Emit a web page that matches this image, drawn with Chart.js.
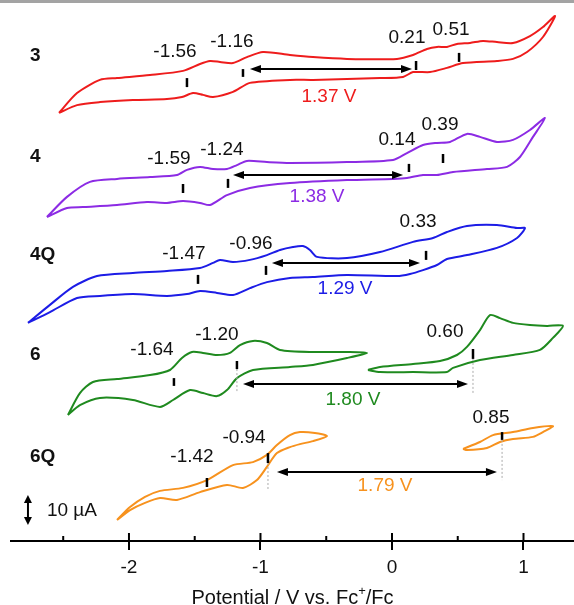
<!DOCTYPE html>
<html>
<head>
<meta charset="utf-8">
<script src="https://cdn.jsdelivr.net/npm/chart.js@4.4.1/dist/chart.umd.min.js"></script>
<style>
  html, body { margin: 0; padding: 0; background: #fff; }
  #wrap { width: 574px; height: 605px; position: relative; }
</style>
</head>
<body>
<div id="wrap"><canvas id="cv"></canvas></div>
<script>
/* ---- CV data: potential (V vs Fc+/Fc) and stacked current (µA) ---- */

// 3 (red)
const e3 = [-2.532,-2.395,-2.221,-2.091,-1.840,-1.589,-1.460,-1.384,-1.308,-1.209,-1.103,-0.981,-0.776,-0.601,-0.342,0.038,0.160,0.266,0.342,0.418,0.494,0.593,0.692,0.798,0.920,1.049,1.148,1.240,
  1.148,1.027,0.920,0.798,0.540,0.418,0.289,0.160,0.084,-0.091,-0.342,-0.601,-0.776,-1.080,-1.209,-1.361,-1.437,-1.513,-1.597,-1.711,-1.970,-2.221,-2.395,-2.532];
const i3 = [142.7,149.3,153.7,154.3,155.3,156.7,159.0,160.0,159.7,159.3,161.3,163.0,162.0,161.3,160.7,160.7,162.0,164.0,164.7,164.7,165.7,166.0,166.7,166.3,166.0,168.3,171.3,175.0,
  168.0,163.0,160.7,160.0,159.3,157.7,156.3,156.3,154.7,154.3,154.0,153.7,153.7,152.7,149.7,148.0,148.7,149.3,148.0,147.3,147.0,146.3,145.3,142.7];

// 4 (purple)
const e4 = [-2.624,-2.471,-2.297,-2.091,-1.840,-1.635,-1.559,-1.460,-1.361,-1.255,-1.179,-1.103,-0.951,-0.776,-0.342,0.008,0.114,0.236,0.342,0.441,0.570,0.669,0.798,0.920,1.049,1.163,
  1.072,0.973,0.875,0.722,0.464,0.342,0.236,0.114,0.008,-0.342,-0.776,-1.080,-1.255,-1.384,-1.460,-1.589,-1.711,-1.863,-2.091,-2.350,-2.471,-2.624];
const i4 = [108.0,114.7,119.7,120.7,121.3,122.0,123.7,124.7,124.0,124.0,125.3,126.7,126.3,126.0,126.3,127.0,129.3,132.0,132.7,133.0,135.7,134.7,133.0,133.7,137.0,141.0,
  134.7,128.0,124.7,124.0,123.0,122.0,122.0,121.0,120.7,120.3,119.3,117.7,115.3,112.0,112.7,113.3,112.7,113.0,112.0,111.3,111.0,108.0];

// 4Q (blue)
const e4Q = [-2.768,-2.601,-2.426,-2.243,-1.970,-1.711,-1.460,-1.361,-1.308,-1.209,-1.080,-0.951,-0.852,-0.753,-0.677,-0.624,-0.570,-0.342,-0.091,0.160,0.312,0.418,0.570,0.798,0.951,1.011,
  0.951,0.798,0.570,0.418,0.342,0.236,0.137,0.038,-0.342,-0.601,-0.776,-0.951,-1.080,-1.209,-1.331,-1.460,-1.559,-1.711,-1.970,-2.221,-2.395,-2.601,-2.768];
const i4Q = [72.7,78.7,84.7,88.3,89.3,90.0,91.0,92.7,93.7,93.0,93.7,95.3,97.0,98.0,98.3,97.0,94.7,94.3,96.3,99.7,101.0,103.0,105.0,105.3,104.3,104.3,
  101.0,97.7,95.3,94.0,92.0,90.3,89.0,88.3,88.7,88.0,87.7,86.3,84.3,82.0,82.7,83.3,82.3,81.7,82.3,81.7,81.0,76.3,72.7];

// 6 (green), reductive and oxidative scans
const e6red = [-2.464,-2.373,-2.274,-2.091,-1.840,-1.688,-1.597,-1.521,-1.437,-1.331,-1.232,-1.156,-1.057,-0.951,-0.852,-0.601,-0.342,-0.190,
  -0.342,-0.601,-0.776,-1.057,-1.179,-1.255,-1.331,-1.437,-1.536,-1.665,-1.764,-1.970,-2.221,-2.373,-2.464];
const i6red = [42.0,49.3,53.0,54.0,55.3,57.0,61.0,63.0,62.7,62.0,62.7,65.3,66.7,66.0,63.7,63.0,63.0,62.7,
  61.0,58.7,58.0,57.0,54.3,50.3,48.3,49.3,50.3,47.0,44.7,47.0,47.7,45.3,42.0];
const e6ox = [-0.183,-0.091,0.160,0.365,0.494,0.570,0.669,0.745,0.821,0.920,1.049,1.179,1.300,
  1.224,1.125,0.920,0.669,0.464,0.418,0.160,-0.091,-0.183];
const i6ox = [57.0,58.0,59.0,60.0,62.0,64.7,70.3,75.3,74.3,72.7,72.0,71.7,71.7,
  67.7,63.7,62.0,60.3,57.7,56.3,56.3,56.3,57.0];

// 6Q (orange), reductive and oxidative scans
const e6Qred = [-2.091,-1.992,-1.878,-1.764,-1.589,-1.407,-1.209,-1.057,-0.951,-0.875,-0.776,-0.700,-0.586,-0.494,
  -0.601,-0.700,-0.776,-0.875,-0.951,-1.027,-1.133,-1.255,-1.460,-1.635,-1.764,-1.878,-1.992,-2.091];
const i6Qred = [7.0,11.3,14.7,16.7,17.7,20.3,25.3,26.3,28.7,32.0,35.3,36.3,36.0,35.0,
  33.3,32.3,31.3,29.3,24.7,20.3,17.7,18.7,16.3,13.7,14.3,12.7,10.3,7.0];
const e6Qox = [0.540,0.669,0.768,0.920,1.072,1.224,1.148,1.072,0.920,0.821,0.722,0.570,0.540];
const i6Qox = [30.7,33.0,35.3,36.3,37.7,38.3,36.3,34.7,34.0,33.0,31.0,30.3,30.7];

// peak markers: [E, I bottom, I top]
const peakMarks = [
  [-1.559,151.3,154.3],[-1.133,154.7,157.3],[0.183,157.0,160.0],[0.510,159.7,162.7],
  [-1.589,116.0,119.0],[-1.247,117.7,120.7],[0.129,123.0,125.7],[0.388,126.0,129.0],
  [-1.475,85.7,88.7],[-0.958,88.7,91.7],[0.259,93.7,96.7],
  [-1.658,51.7,54.3],[-1.179,57.3,60.0],[0.616,60.7,64.0],
  [-1.407,18.0,21.0],[-0.943,26.0,29.3],[0.837,33.7,36.3]
];
// dotted guides: [E, I top, I bottom]
const guides = [[-1.179,57.3,49.7],[0.616,60.7,49.3],[-0.943,26.0,17.0],[0.837,33.7,20.3]];
// gap arrows: [E from, E to, I]
const gapArrows = [[-1.080,0.152,157.3],[-1.209,0.084,122.0],[-0.913,0.213,92.7],[-1.133,0.578,52.3],[-0.875,0.798,23.0]];
const gapLabels = [['1.37 V',-0.479,148.0],['1.38 V',-0.570,114.7],['1.29 V',-0.357,84.0],['1.80 V',-0.297,47.0],['1.79 V',-0.053,18.3]];
const peakLabels = [
  ['-1.56',-1.650,163.0],['-1.16',-1.217,166.3],['0.21',0.114,167.7],['0.51',0.449,170.3],
  ['-1.59',-1.696,127.3],['-1.24',-1.293,130.3],['0.14',0.038,133.7],['0.39',0.365,138.7],
  ['-1.47',-1.582,95.7],['-0.96',-1.072,99.0],['0.33',0.198,106.3],
  ['-1.64',-1.825,63.7],['-1.20',-1.331,68.7],['0.60',0.403,69.7],
  ['-1.42',-1.521,28.0],['-0.94',-1.125,34.3],['0.85',0.753,41.0]
];
const compounds = [['3',161.7],['4',128.0],['4Q',95.3],['6',62.0],['6Q',28.0]];
const xTicks = [-2, -1, 0, 1];
const xMinor = [-2.5, -1.5, -0.5, 0.5];

const COLORS = ['#ee1c1c', '#8c2be4', '#1c1ce6', '#1f8a1f', '#f7921e'];
const FONT = '"Liberation Sans", Arial, sans-serif';

const zip = (es, is) => es.map((e, k) => ({ x: e, y: is[k] }));

function cv(data, color) {
  return {
    data, showLine: true, borderColor: color, borderWidth: 2,
    pointRadius: 0, tension: 0.25, fill: false, clip: false,
  };
}

function arrowHead(ctx, x, y, dx, dy, len, half) {
  ctx.beginPath();
  ctx.moveTo(x, y);
  ctx.lineTo(x - dx * len - dy * half, y - dy * len + dx * half);
  ctx.lineTo(x - dx * len + dy * half, y - dy * len - dx * half);
  ctx.closePath();
  ctx.fill();
}

const annotations = {
  id: 'annotations',
  beforeDraw(chart) {
    const { ctx } = chart;
    ctx.save();
    ctx.fillStyle = '#a3a3a3';
    ctx.fillRect(0, 0, chart.width, 3);
    ctx.restore();
  },
  afterDatasetsDraw(chart) {
    const { ctx, scales: { x, y }, chartArea } = chart;
    const px = v => x.getPixelForValue(v);
    const py = v => y.getPixelForValue(v);
    ctx.save();

    // dotted guides
    ctx.strokeStyle = '#aaaaaa';
    ctx.lineWidth = 1;
    ctx.setLineDash([2, 2]);
    guides.forEach(([e, a, b]) => {
      ctx.beginPath(); ctx.moveTo(px(e), py(a)); ctx.lineTo(px(e), py(b)); ctx.stroke();
    });
    ctx.setLineDash([]);

    // peak markers
    ctx.strokeStyle = '#000';
    ctx.lineWidth = 2.5;
    peakMarks.forEach(([e, a, b]) => {
      ctx.beginPath(); ctx.moveTo(px(e), py(a)); ctx.lineTo(px(e), py(b)); ctx.stroke();
    });

    // gap arrows
    ctx.fillStyle = '#000';
    ctx.lineWidth = 2;
    gapArrows.forEach(([a, b, i]) => {
      const x1 = px(a), x2 = px(b), yy = py(i);
      ctx.beginPath(); ctx.moveTo(x1 + 8, yy); ctx.lineTo(x2 - 8, yy); ctx.stroke();
      arrowHead(ctx, x1, yy, -1, 0, 11, 4);
      arrowHead(ctx, x2, yy, 1, 0, 11, 4);
    });

    // scale bar (10 µA)
    const sx = px(-2.768);
    ctx.beginPath(); ctx.moveTo(sx, py(14.3)); ctx.lineTo(sx, py(6.3)); ctx.stroke();
    arrowHead(ctx, sx, py(15.3), 0, -1, 8, 4);
    arrowHead(ctx, sx, py(5.3), 0, 1, 8, 4);

    ctx.textBaseline = 'middle';
    ctx.textAlign = 'left';
    ctx.fillStyle = '#111';
    ctx.font = `19px ${FONT}`;
    ctx.fillText('10 µA', px(-2.624), py(10.0));

    // compound labels
    ctx.font = `bold 19px ${FONT}`;
    compounds.forEach(([t, i]) => ctx.fillText(t, px(-2.753), py(i)));

    // peak potentials
    ctx.textAlign = 'center';
    ctx.font = `19px ${FONT}`;
    ctx.fillStyle = '#111';
    peakLabels.forEach(([t, e, i]) => ctx.fillText(t, px(e), py(i)));

    // gaps
    gapLabels.forEach(([t, e, i], k) => {
      ctx.fillStyle = COLORS[k];
      ctx.fillText(t, px(e), py(i));
    });

    // axis ticks above the line
    const base = chartArea.bottom;
    ctx.strokeStyle = '#000';
    ctx.lineWidth = 2;
    xTicks.forEach(v => {
      ctx.beginPath(); ctx.moveTo(px(v), base); ctx.lineTo(px(v), base - 8); ctx.stroke();
    });
    xMinor.forEach(v => {
      ctx.beginPath(); ctx.moveTo(px(v), base); ctx.lineTo(px(v), base - 5); ctx.stroke();
    });

    // axis title with superscript
    const t1 = 'Potential / V vs. Fc', sup = '+', t2 = '/Fc';
    ctx.font = `20px ${FONT}`;
    const w1 = ctx.measureText(t1).width, w3 = ctx.measureText(t2).width;
    ctx.font = `13px ${FONT}`;
    const w2 = ctx.measureText(sup).width;
    const cx = (chartArea.left + chartArea.right) / 2;
    let tx = cx - (w1 + w2 + w3) / 2;
    const ty = base + 57;
    ctx.fillStyle = '#111';
    ctx.textAlign = 'left';
    ctx.font = `20px ${FONT}`;
    ctx.fillText(t1, tx, ty);
    ctx.font = `13px ${FONT}`;
    ctx.fillText(sup, tx + w1, ty - 7);
    ctx.font = `20px ${FONT}`;
    ctx.fillText(t2, tx + w1 + w2, ty);

    ctx.restore();
  },
};

Chart.defaults.font.family = FONT;

new Chart(document.getElementById('cv'), {
  type: 'scatter',
  data: {
    datasets: [
      cv(zip(e3, i3), COLORS[0]),
      cv(zip(e4, i4), COLORS[1]),
      cv(zip(e4Q, i4Q), COLORS[2]),
      cv(zip(e6red, i6red), COLORS[3]),
      cv(zip(e6ox, i6ox), COLORS[3]),
      cv(zip(e6Qred, i6Qred), COLORS[4]),
      cv(zip(e6Qox, i6Qox), COLORS[4]),
    ],
  },
  options: {
    responsive: true,
    maintainAspectRatio: false,
    animation: false,
    layout: { padding: { left: 11, right: 0, top: 0, bottom: 0 } },
    plugins: { legend: { display: false }, tooltip: { enabled: false } },
    scales: {
      x: {
        type: 'linear',
        min: -2.897,
        max: 1.384,
        afterBuildTicks: s => { s.ticks = xTicks.map(v => ({ value: v })); },
        afterFit: s => { s.height = 64; },
        border: { display: true, color: '#000', width: 2 },
        grid: { display: true, drawOnChartArea: false, drawTicks: true, tickLength: 9, color: '#000', lineWidth: 2 },
        ticks: { color: '#111', font: { size: 19 }, padding: 6, callback: v => String(v) },
      },
      y: {
        type: 'linear',
        display: false,
        min: 0,
        max: 180.33,
      },
    },
  },
  plugins: [annotations],
});
</script>
</body>
</html>
